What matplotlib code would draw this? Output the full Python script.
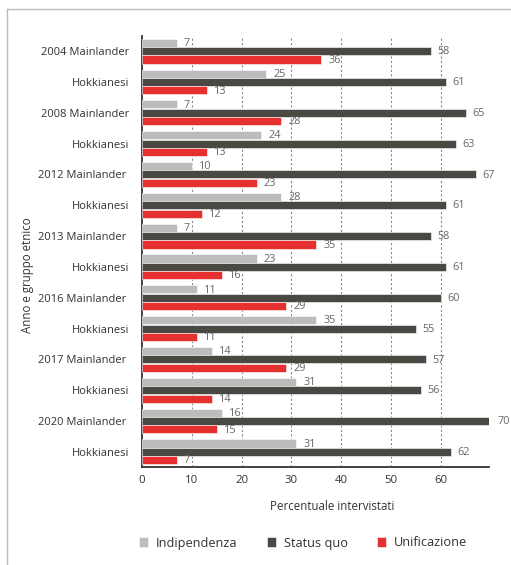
import numpy as np
import matplotlib.pyplot as plt
from matplotlib.lines import Line2D

plt.rcParams['font.family'] = ['Open Sans', 'DejaVu Sans']

gruppi = ['2004 Mainlander', 'Hokkianesi', '2008 Mainlander', 'Hokkianesi',
          '2012 Mainlander ', 'Hokkianesi', '2013 Mainlander ', 'Hokkianesi',
          '2016 Mainlander ', 'Hokkianesi', '2017 Mainlander ', 'Hokkianesi',
          '2020 Mainlander ', 'Hokkianesi']
indipendenza = [7, 25, 7, 24, 10, 28, 7, 23, 11, 35, 14, 31, 16, 31]
status_quo = [58, 61, 65, 63, 67, 61, 58, 61, 60, 55, 57, 56, 70, 62]
unificazione = [36, 13, 28, 13, 23, 12, 35, 16, 29, 11, 29, 14, 15, 7]
serie = ['Indipendenza', 'Status quo', 'Unificazione']
colori = ['#bcbcbc', '#4a4843', '#e63030']

fig = plt.figure(figsize=(5.11, 5.65), dpi=100)
ax = fig.add_axes([142/511, 1-467/565, (489-142)/511, (467-36)/565])

y = np.arange(len(gruppi))
off = 0.272
h = 0.262
for k, (vals, col) in enumerate(zip([indipendenza, status_quo, unificazione], colori)):
    pos = y + (k - 1) * off
    ax.barh(pos, vals, height=h, color=col, edgecolor='white', linewidth=0.4,
            label=serie[k], zorder=3)
    for p, v in zip(pos, vals):
        ax.annotate(str(v), (v, p), xytext=(5, -0.5), textcoords='offset points',
                    va='center', ha='left', fontsize=7.8, color='#666666', zorder=4,
                    annotation_clip=False)

ax.set_ylim(len(gruppi) - 0.51, -0.49)
ax.set_xlim(0, 69.7)
ax.set_yticks(y)
ax.set_yticklabels(gruppi, fontsize=8.0, color='#333333')
ax.set_xticks(np.arange(0, 70, 10))
ax.tick_params(axis='x', labelsize=8.2, labelcolor='#333333', length=0, pad=6)
ax.tick_params(axis='y', length=0, pad=9)
for x in range(10, 70, 10):
    ax.axvline(x, color='#888888', linestyle=(0, (2, 2)), linewidth=0.8, zorder=1)

for s in ['top', 'right']:
    ax.spines[s].set_visible(False)
for s in ['left', 'bottom']:
    ax.spines[s].set_color('#333333')
    ax.spines[s].set_linewidth(1.3)

fig.text(28/511, 1-275/565, 'Anno e gruppo etnico', rotation=90, ha='center',
         va='center', fontsize=8.3, color='#333333')
fig.text(332/511, 1-506/565, 'Percentuale intervistati', ha='center',
         va='center', fontsize=8.3, color='#333333')

handles, labels = ax.get_legend_handles_labels()
fig.legend(handles, labels, loc='center', bbox_to_anchor=(303/511, 1-543/565),
           ncol=3, frameon=False, fontsize=9.2, handlelength=0.72,
           handleheight=0.72, handletextpad=0.6, columnspacing=2.3,
           labelcolor='#333333')

# cornice
fig.add_artist(Line2D([7/511, 7/511], [0, 1-9/565], color='#bbbbbb', linewidth=1.0))
fig.add_artist(Line2D([7/511, 1], [1-9/565, 1-9/565], color='#bbbbbb', linewidth=1.0))

fig.savefig('out.png', dpi=100)
